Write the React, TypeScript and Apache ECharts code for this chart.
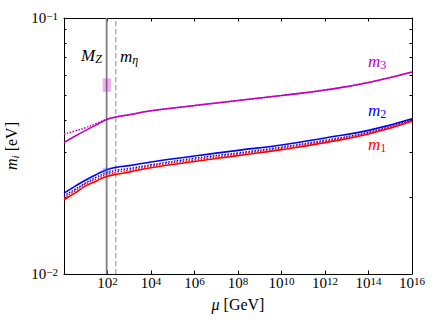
import { useEffect, useRef } from 'react';
import * as echarts from 'echarts';

// Renormalisation scale mu [GeV]
const MU = [1, 3.16, 10, 31.6, 100, 316, 1e3, 1e4, 1e6, 1e8, 1e10, 1e12, 1e14, 1e16];
// Neutrino masses [eV] (solid: full running, dotted: approximation)
const M3 = [0.0326, 0.0345, 0.0364, 0.0383, 0.0402, 0.0412, 0.0419, 0.0434, 0.0455, 0.0476, 0.0498, 0.0523, 0.056, 0.0615];
const M3_DOT = [0.0352, 0.0362, 0.0373, 0.0388, 0.0403, 0.0412, 0.0419, 0.0434, 0.0455, 0.0476, 0.0498, 0.0523, 0.056, 0.0615];
const M2 = [0.0207, 0.022, 0.0233, 0.0245, 0.0256, 0.0262, 0.0265, 0.0274, 0.0289, 0.0304, 0.0319, 0.034, 0.0364, 0.0404];
const M2_DOT = [0.0202, 0.0214, 0.0227, 0.0239, 0.0249, 0.0255, 0.0258, 0.0267, 0.0283, 0.0297, 0.0313, 0.0333, 0.0358, 0.0401];
const M1 = [0.0195, 0.0207, 0.0221, 0.0231, 0.0241, 0.0246, 0.025, 0.026, 0.0275, 0.029, 0.0306, 0.0326, 0.0352, 0.0395];
const M1_DOT = [0.0198, 0.0211, 0.0225, 0.0235, 0.0245, 0.0251, 0.0254, 0.0264, 0.0279, 0.0294, 0.031, 0.033, 0.0356, 0.0398];

const MZ = 91.19;
const M_ETA = 240;
const Y_RANGE = [0.01, 0.1];
const X_RANGE = [1, 1e16];
const X_EXP_RANGE = [0, 16];
const Y_EXP_RANGE = [-2, -1];
const Y_MINOR = [2, 3, 4, 5, 6, 7, 8, 9];

// Boxes at M_Z
const BOX_MU = [60, 145];
const BOX_M3 = [0.0515, 0.0581];
const BOX_M2 = [0.0246, 0.026];

const FONT = 'Liberation Serif';

export default function App() {
  const ref = useRef<HTMLDivElement>(null);
  useEffect(() => {
    const chart = echarts.init(ref.current!, null, { renderer: 'svg' });
    const pair = (ys: number[]) => MU.map((x, i) => [x, ys[i]]);
    const curve = (name: string, ys: number[], color: string, dotted: boolean, z: number) => ({
      type: 'line',
      name,
      data: pair(ys),
      xAxisIndex: 0,
      yAxisIndex: 0,
      symbol: 'none',
      showSymbol: false,
      smooth: 0.5,
      silent: true,
      z,
      lineStyle: { color, width: dotted ? 1.5 : 1.6, type: dotted ? 'dotted' : 'solid' },
    });
    const vline = (name: string, x: number, color: string, width: number, type: any) => ({
      type: 'line',
      name,
      data: [
        [x, Y_RANGE[0]],
        [x, Y_RANGE[1]],
      ],
      xAxisIndex: 0,
      yAxisIndex: 0,
      symbol: 'none',
      silent: true,
      z: 2,
      lineStyle: { color, width, type },
    });
    const box = (name: string, yr: number[], color: string) => ({
      type: 'custom',
      name,
      xAxisIndex: 0,
      yAxisIndex: 0,
      silent: true,
      z: 6,
      data: [[BOX_MU[0], BOX_MU[1], yr[0], yr[1]]],
      renderItem: (_p: any, api: any) => {
        const a = api.coord([api.value(0), api.value(3)]);
        const b = api.coord([api.value(1), api.value(2)]);
        return {
          type: 'rect',
          shape: { x: a[0], y: a[1], width: b[0] - a[0], height: b[1] - a[1] },
          style: { fill: color },
        };
      },
    });
    const supRich = {
      b: { fontFamily: FONT, fontSize: 15, lineHeight: 15, color: '#000' },
      s: { fontFamily: FONT, fontSize: 11, lineHeight: 9, verticalAlign: 'top', color: '#000' },
    };
    const label = (text: string, x: number, y: number, color: string) => ({
      type: 'text',
      x,
      y,
      silent: true,
      style: {
        text,
        fill: color,
        align: 'left',
        verticalAlign: 'middle',
        rich: {
          i: { fontFamily: FONT, fontStyle: 'italic', fontSize: 17, lineHeight: 20, color },
          sub: { fontFamily: FONT, fontStyle: 'italic', fontSize: 12, lineHeight: 10, verticalAlign: 'bottom', color },
          subr: { fontFamily: FONT, fontSize: 12, lineHeight: 10, verticalAlign: 'bottom', color },
        },
      },
    });
    const minorExp = Y_MINOR.map((k) => Math.log10(k) - 2);

    chart.setOption({
      animation: false,
      grid: { left: 64, right: 24, top: 18, bottom: 53, containLabel: false, outerBoundsMode: 'none' },
      xAxis: [
        { type: 'log', logBase: 10, min: X_RANGE[0], max: X_RANGE[1], show: false },
        {
          type: 'value',
          position: 'bottom',
          min: X_EXP_RANGE[0],
          max: X_EXP_RANGE[1],
          interval: 2,
          axisLine: { show: true, onZero: false, lineStyle: { color: '#000', width: 1 } },
          axisTick: { show: true, inside: true, length: 3.5, lineStyle: { color: '#000' } },
          splitLine: { show: false },
          axisLabel: {
            margin: 1,
            fontFamily: FONT,
            fontSize: 15,
            hideOverlap: false,
            formatter: (v: number) => (v === 0 ? '' : `{b|10}{s|${v}}`),
            rich: supRich,
          },
          name: '{i|μ} [GeV]',
          nameLocation: 'middle',
          nameGap: 22,
          nameTextStyle: {
            fontFamily: FONT,
            fontSize: 16,
            color: '#000',
            verticalAlign: 'top',
            rich: { i: { fontFamily: FONT, fontStyle: 'italic', fontSize: 16, color: '#000' } },
          },
        },
        {
          type: 'value',
          position: 'top',
          min: X_EXP_RANGE[0],
          max: X_EXP_RANGE[1],
          interval: 2,
          axisLine: { show: true, onZero: false, lineStyle: { color: '#000', width: 1 } },
          axisTick: { show: true, inside: true, length: 3.5, lineStyle: { color: '#000' } },
          splitLine: { show: false },
          axisLabel: { show: false },
        },
      ],
      yAxis: [
        {
          type: 'log',
          logBase: 10,
          position: 'left',
          min: Y_RANGE[0],
          max: Y_RANGE[1],
          axisLine: { show: true, onZero: false, lineStyle: { color: '#000', width: 1 } },
          axisTick: { show: false },
          splitLine: { show: false },
          axisLabel: {
            margin: 6,
            fontFamily: FONT,
            fontSize: 15,
            formatter: (v: number) => `{b|10}{s|−${-Math.round(Math.log10(v))}}`,
            rich: supRich,
          },
          name: '{i|m}{sub|i} [eV]',
          nameLocation: 'middle',
          nameGap: 38,
          nameTextStyle: {
            fontFamily: FONT,
            fontSize: 16,
            lineHeight: 18,
            color: '#000',
            rich: {
              i: { fontFamily: FONT, fontStyle: 'italic', fontSize: 16, lineHeight: 18, color: '#000' },
              sub: { fontFamily: FONT, fontStyle: 'italic', fontSize: 11, lineHeight: 10, verticalAlign: 'bottom', color: '#000' },
            },
          },
        },
        {
          type: 'value',
          position: 'left',
          min: Y_EXP_RANGE[0],
          max: Y_EXP_RANGE[1],
          axisLine: { show: false, onZero: false },
          axisTick: { show: true, inside: true, length: 2.5, customValues: minorExp, lineStyle: { color: '#000' } },
          axisLabel: { show: false },
          splitLine: { show: false },
        },
        {
          type: 'value',
          position: 'right',
          min: Y_EXP_RANGE[0],
          max: Y_EXP_RANGE[1],
          axisLine: { show: true, onZero: false, lineStyle: { color: '#000', width: 1 } },
          axisTick: { show: true, inside: true, length: 2.5, customValues: minorExp, lineStyle: { color: '#000' } },
          axisLabel: { show: false },
          splitLine: { show: false },
        },
      ],
      graphic: [
        label('{i|M}{sub|Z}', 81, 55, '#000'),
        label('{i|m}{sub|η}', 120, 56, '#000'),
        label('{i|m}{subr|3}', 368, 61, '#bf00bf'),
        label('{i|m}{subr|2}', 368, 110, '#0000ff'),
        label('{i|m}{subr|1}', 368, 144, '#ff0000'),
      ],
      series: [
        box('m3 box', BOX_M3, 'rgba(191,0,191,0.3)'),
        box('m2 box', BOX_M2, 'rgba(80,80,255,0.35)'),
        vline('M_Z', MZ, '#808080', 1.8, 'solid'),
        vline('m_eta', M_ETA, '#b0b0b0', 1.5, [5, 3]),
        curve('m3 approx', M3_DOT, '#bf00bf', true, 3),
        curve('m2 approx', M2_DOT, '#0000ff', true, 3),
        curve('m1 approx', M1_DOT, '#ff0000', true, 3),
        curve('m3', M3, '#bf00bf', false, 4),
        curve('m2', M2, '#0000ff', false, 4),
        curve('m1', M1, '#ff0000', false, 4),
      ],
    });
    return () => chart.dispose();
  }, []);
  return <div ref={ref} style={{ position: 'absolute', left: 0, top: 0, width: 436, height: 327 }} />;
}
